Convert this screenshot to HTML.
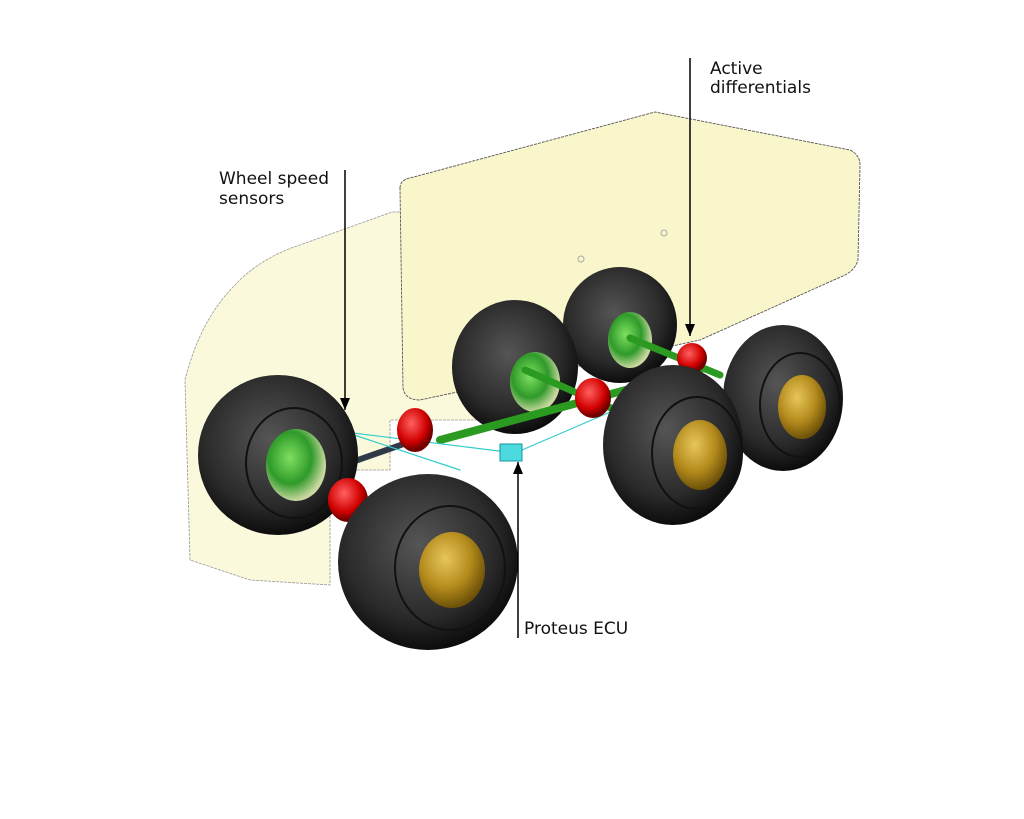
<!DOCTYPE html>
<html><head><meta charset="utf-8"><style>
html,body{margin:0;padding:0;background:#fff}
svg{display:block}
text{font-family:"DejaVu Sans","Liberation Sans",sans-serif;font-size:17px;fill:#111}
</style></head><body>
<svg width="1024" height="819" viewBox="0 0 1024 819" xmlns="http://www.w3.org/2000/svg">
<defs>
<radialGradient id="tire" cx="45%" cy="40%" r="60%">
<stop offset="0" stop-color="#555"/><stop offset="0.7" stop-color="#2a2a2a"/><stop offset="1" stop-color="#0c0c0c"/></radialGradient>
<radialGradient id="gold" cx="40%" cy="35%" r="65%">
<stop offset="0" stop-color="#e8c65a"/><stop offset="0.6" stop-color="#b38a1c"/><stop offset="1" stop-color="#6e5208"/></radialGradient>
<radialGradient id="grn" cx="40%" cy="40%" r="60%">
<stop offset="0" stop-color="#7fe060"/><stop offset="0.6" stop-color="#2f9a2a"/><stop offset="1" stop-color="#c9d8a0"/></radialGradient>
<radialGradient id="red" cx="40%" cy="35%" r="60%">
<stop offset="0" stop-color="#ff6060"/><stop offset="0.7" stop-color="#d10000"/><stop offset="1" stop-color="#700000"/></radialGradient>
<marker id="ah" markerWidth="12" markerHeight="10" refX="12" refY="5" orient="auto" markerUnits="userSpaceOnUse"><path d="M0,0 L12,5 L0,10 Z" fill="#000"/></marker>
</defs>
<!-- cab -->
<path d="M190,560 L185,380 Q200,320 235,285 Q260,258 300,245 L392,212 Q470,210 520,250 L520,420 L390,420 L390,470 L330,470 L330,585 L250,580 Z" fill="#fbf9dc" stroke="#999" stroke-width="0.8" stroke-dasharray="3,1"/>
<!-- box -->
<path d="M400,188 Q400,180 410,178 L655,112 L850,150 Q860,155 860,165 L858,260 Q855,270 845,275 L700,340 L420,400 Q405,400 403,388 Z" fill="#f9f6cc" stroke="#555" stroke-width="0.9" stroke-dasharray="3,1"/>
<circle cx="581" cy="259" r="3" fill="none" stroke="#aaa"/><circle cx="664" cy="233" r="3" fill="none" stroke="#aaa"/>
<g>
<ellipse cx="620" cy="325" rx="57" ry="58" fill="url(#tire)"/>
<ellipse cx="630" cy="340" rx="22" ry="28" fill="url(#grn)"/>
<ellipse cx="515" cy="367" rx="63" ry="67" fill="url(#tire)"/>
<ellipse cx="535" cy="382" rx="25" ry="30" fill="url(#grn)"/>
</g>
<g stroke-linecap="round">
<line x1="630" y1="338" x2="720" y2="375" stroke="#2a9a20" stroke-width="7"/>
<line x1="525" y1="370" x2="620" y2="412" stroke="#2a9a20" stroke-width="7"/>
<line x1="440" y1="440" x2="700" y2="370" stroke="#2a9a20" stroke-width="8"/>
<line x1="290" y1="460" x2="350" y2="495" stroke="#2a9a20" stroke-width="8"/>
<line x1="315" y1="475" x2="415" y2="440" stroke="#2f3a48" stroke-width="6"/>
<line x1="345" y1="432" x2="515" y2="453" stroke="#3cc" stroke-width="1.2"/>
<line x1="515" y1="453" x2="615" y2="410" stroke="#3cc" stroke-width="1.2"/>
<line x1="345" y1="432" x2="460" y2="470" stroke="#3cc" stroke-width="1.2"/>
</g>
<ellipse cx="692" cy="358" rx="15" ry="15" fill="url(#red)"/>
<ellipse cx="593" cy="398" rx="18" ry="20" fill="url(#red)"/>
<ellipse cx="415" cy="430" rx="18" ry="22" fill="url(#red)"/>
<rect x="500" y="444" width="22" height="17" fill="#4dd9e0" stroke="#199" stroke-width="1"/>
<rect x="339" y="426" width="12" height="11" fill="#4dd9e0"/>
<ellipse cx="783" cy="398" rx="60" ry="73" fill="url(#tire)"/>
<ellipse cx="800" cy="405" rx="40" ry="52" fill="none" stroke="#111" stroke-width="2"/>
<ellipse cx="802" cy="407" rx="24" ry="32" fill="url(#gold)"/>
<ellipse cx="278" cy="455" rx="80" ry="80" fill="url(#tire)"/>
<ellipse cx="294" cy="463" rx="48" ry="55" fill="none" stroke="#111" stroke-width="2"/>
<ellipse cx="296" cy="465" rx="30" ry="36" fill="url(#grn)"/>
<ellipse cx="348" cy="500" rx="20" ry="22" fill="url(#red)"/>
<ellipse cx="673" cy="445" rx="70" ry="80" fill="url(#tire)"/>
<ellipse cx="697" cy="453" rx="45" ry="56" fill="none" stroke="#111" stroke-width="2"/>
<ellipse cx="700" cy="455" rx="27" ry="35" fill="url(#gold)"/>
<ellipse cx="428" cy="562" rx="90" ry="88" fill="url(#tire)"/>
<ellipse cx="450" cy="568" rx="55" ry="62" fill="none" stroke="#111" stroke-width="2"/>
<ellipse cx="452" cy="570" rx="33" ry="38" fill="url(#gold)"/>
<line x1="345" y1="170" x2="345" y2="410" stroke="#000" stroke-width="1.5" marker-end="url(#ah)"/>
<line x1="690" y1="58" x2="690" y2="336" stroke="#000" stroke-width="1.5" marker-end="url(#ah)"/>
<line x1="518" y1="638" x2="518" y2="462" stroke="#000" stroke-width="1.5" marker-end="url(#ah)"/>
<text x="219" y="184">Wheel speed</text>
<text x="219" y="204">sensors</text>
<text x="710" y="74">Active</text>
<text x="710" y="93">differentials</text>
<text x="524" y="634">Proteus ECU</text>
</svg>
</body></html>
